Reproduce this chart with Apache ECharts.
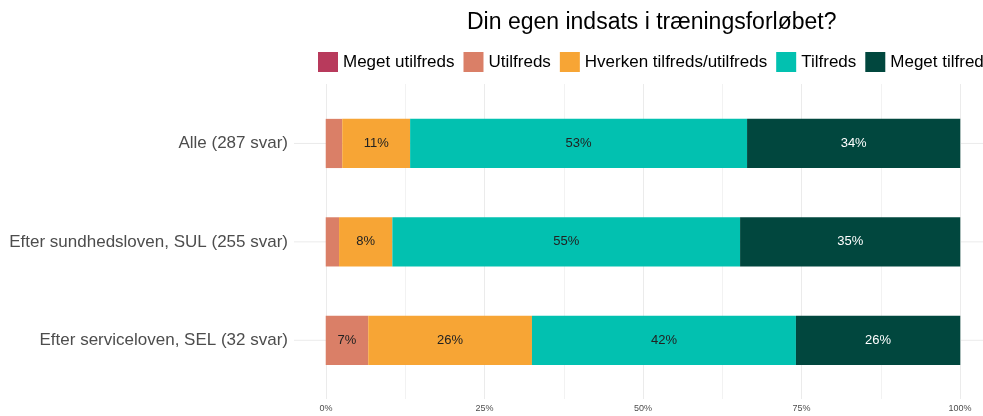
<!DOCTYPE html>
<html>
<head>
<meta charset="utf-8">
<script src="https://cdn.jsdelivr.net/npm/echarts@6/dist/echarts.min.js"></script>
<style>
  html, body { margin: 0; padding: 0; background: #fff; }
  #chart { width: 983px; height: 416px; }
</style>
</head>
<body>
<div id="chart"></div>
<script>
const categories = ['Alle (287 svar)', 'Efter sundhedsloven, SUL (255 svar)', 'Efter serviceloven, SEL (32 svar)']
const megetUtilfreds = [0, 0, 0]
const utilfreds = [2.6, 2.1, 6.7]
const hverken = [10.7, 8.4, 25.8]
const tilfreds = [53.1, 54.8, 41.6]
const megetTilfreds = [33.6, 34.7, 25.9]
const xTicks = [0, 25, 50, 75, 100]

const FONT = 'Liberation Sans, Arial, sans-serif'

const seriesDefs = [
  { name: 'Meget utilfreds', data: megetUtilfreds, color: '#B83A5C', text: '#222' },
  { name: 'Utilfreds', data: utilfreds, color: '#DA7F67', text: '#222' },
  { name: 'Hverken tilfreds/utilfreds', data: hverken, color: '#F7A535', text: '#222' },
  { name: 'Tilfreds', data: tilfreds, color: '#02C1B0', text: '#222' },
  { name: 'Meget tilfreds', data: megetTilfreds, color: '#01473E', text: '#fff' },
]

const chart = echarts.init(document.getElementById('chart'))

// horizontal grid lines through the category centres
const hLines = categories.map((c) => ({
  type: 'line',
  xAxisIndex: 0,
  yAxisIndex: 0,
  data: [[-5, c], [105, c]],
  symbol: 'none',
  silent: true,
  z: 1,
  lineStyle: { color: '#ebebeb', width: 1 },
}))

const bars = seriesDefs.map((s) => ({
  name: s.name,
  type: 'bar',
  stack: 'total',
  xAxisIndex: 0,
  yAxisIndex: 0,
  barWidth: '50%',
  z: 3,
  data: s.data,
  itemStyle: { color: s.color },
  label: {
    show: true,
    position: 'inside',
    color: s.text,
    fontSize: 13,
    fontFamily: FONT,
    formatter: (p) => (p.value >= 5 ? Math.round(p.value) + '%' : ''),
  },
}))

chart.setOption({
  animation: false,
  title: {
    text: 'Din egen indsats i træningsforløbet?',
    left: 462,
    top: 6,
    textStyle: { fontSize: 23, fontWeight: 'normal', color: '#000', fontFamily: FONT },
  },
  legend: {
    data: seriesDefs.map((s) => s.name),
    left: 313,
    top: 47,
    width: 900,
    icon: 'rect',
    itemWidth: 20,
    itemHeight: 20,
    itemGap: 9,
    textStyle: { fontSize: 17, color: '#000', fontFamily: FONT },
  },
  grid: [
    { left: 294, width: 698, top: 94.25, bottom: 26.5, outerBoundsMode: 'none' },
    { left: 326, width: 634, top: 84, bottom: 17, outerBoundsMode: 'none' },
  ],
  xAxis: [
    { type: 'value', gridIndex: 0, min: -5, max: 105, show: false },
    {
      type: 'value',
      gridIndex: 1,
      min: 0,
      max: 100,
      interval: 25,
      axisLine: { show: false },
      axisTick: { show: false },
      axisLabel: {
        color: '#4d4d4d',
        fontSize: 9,
        margin: 5,
        fontFamily: FONT,
        customValues: xTicks,
        formatter: (v) => v + '%',
      },
      splitLine: { show: true, lineStyle: { color: '#ebebeb', width: 1 } },
      minorTick: { show: false, splitNumber: 2 },
      minorSplitLine: { show: true, lineStyle: { color: '#f2f2f2', width: 1 } },
    },
  ],
  yAxis: [
    {
      type: 'category',
      gridIndex: 0,
      data: categories,
      inverse: true,
      axisLine: { show: false },
      axisTick: { show: false },
      splitLine: { show: false },
      axisLabel: { color: '#4d4d4d', fontSize: 17, margin: 6, fontFamily: FONT },
    },
    { type: 'value', gridIndex: 1, min: 0, max: 1, show: false },
  ],
  series: [...hLines, ...bars],
})
</script>
</body>
</html>
